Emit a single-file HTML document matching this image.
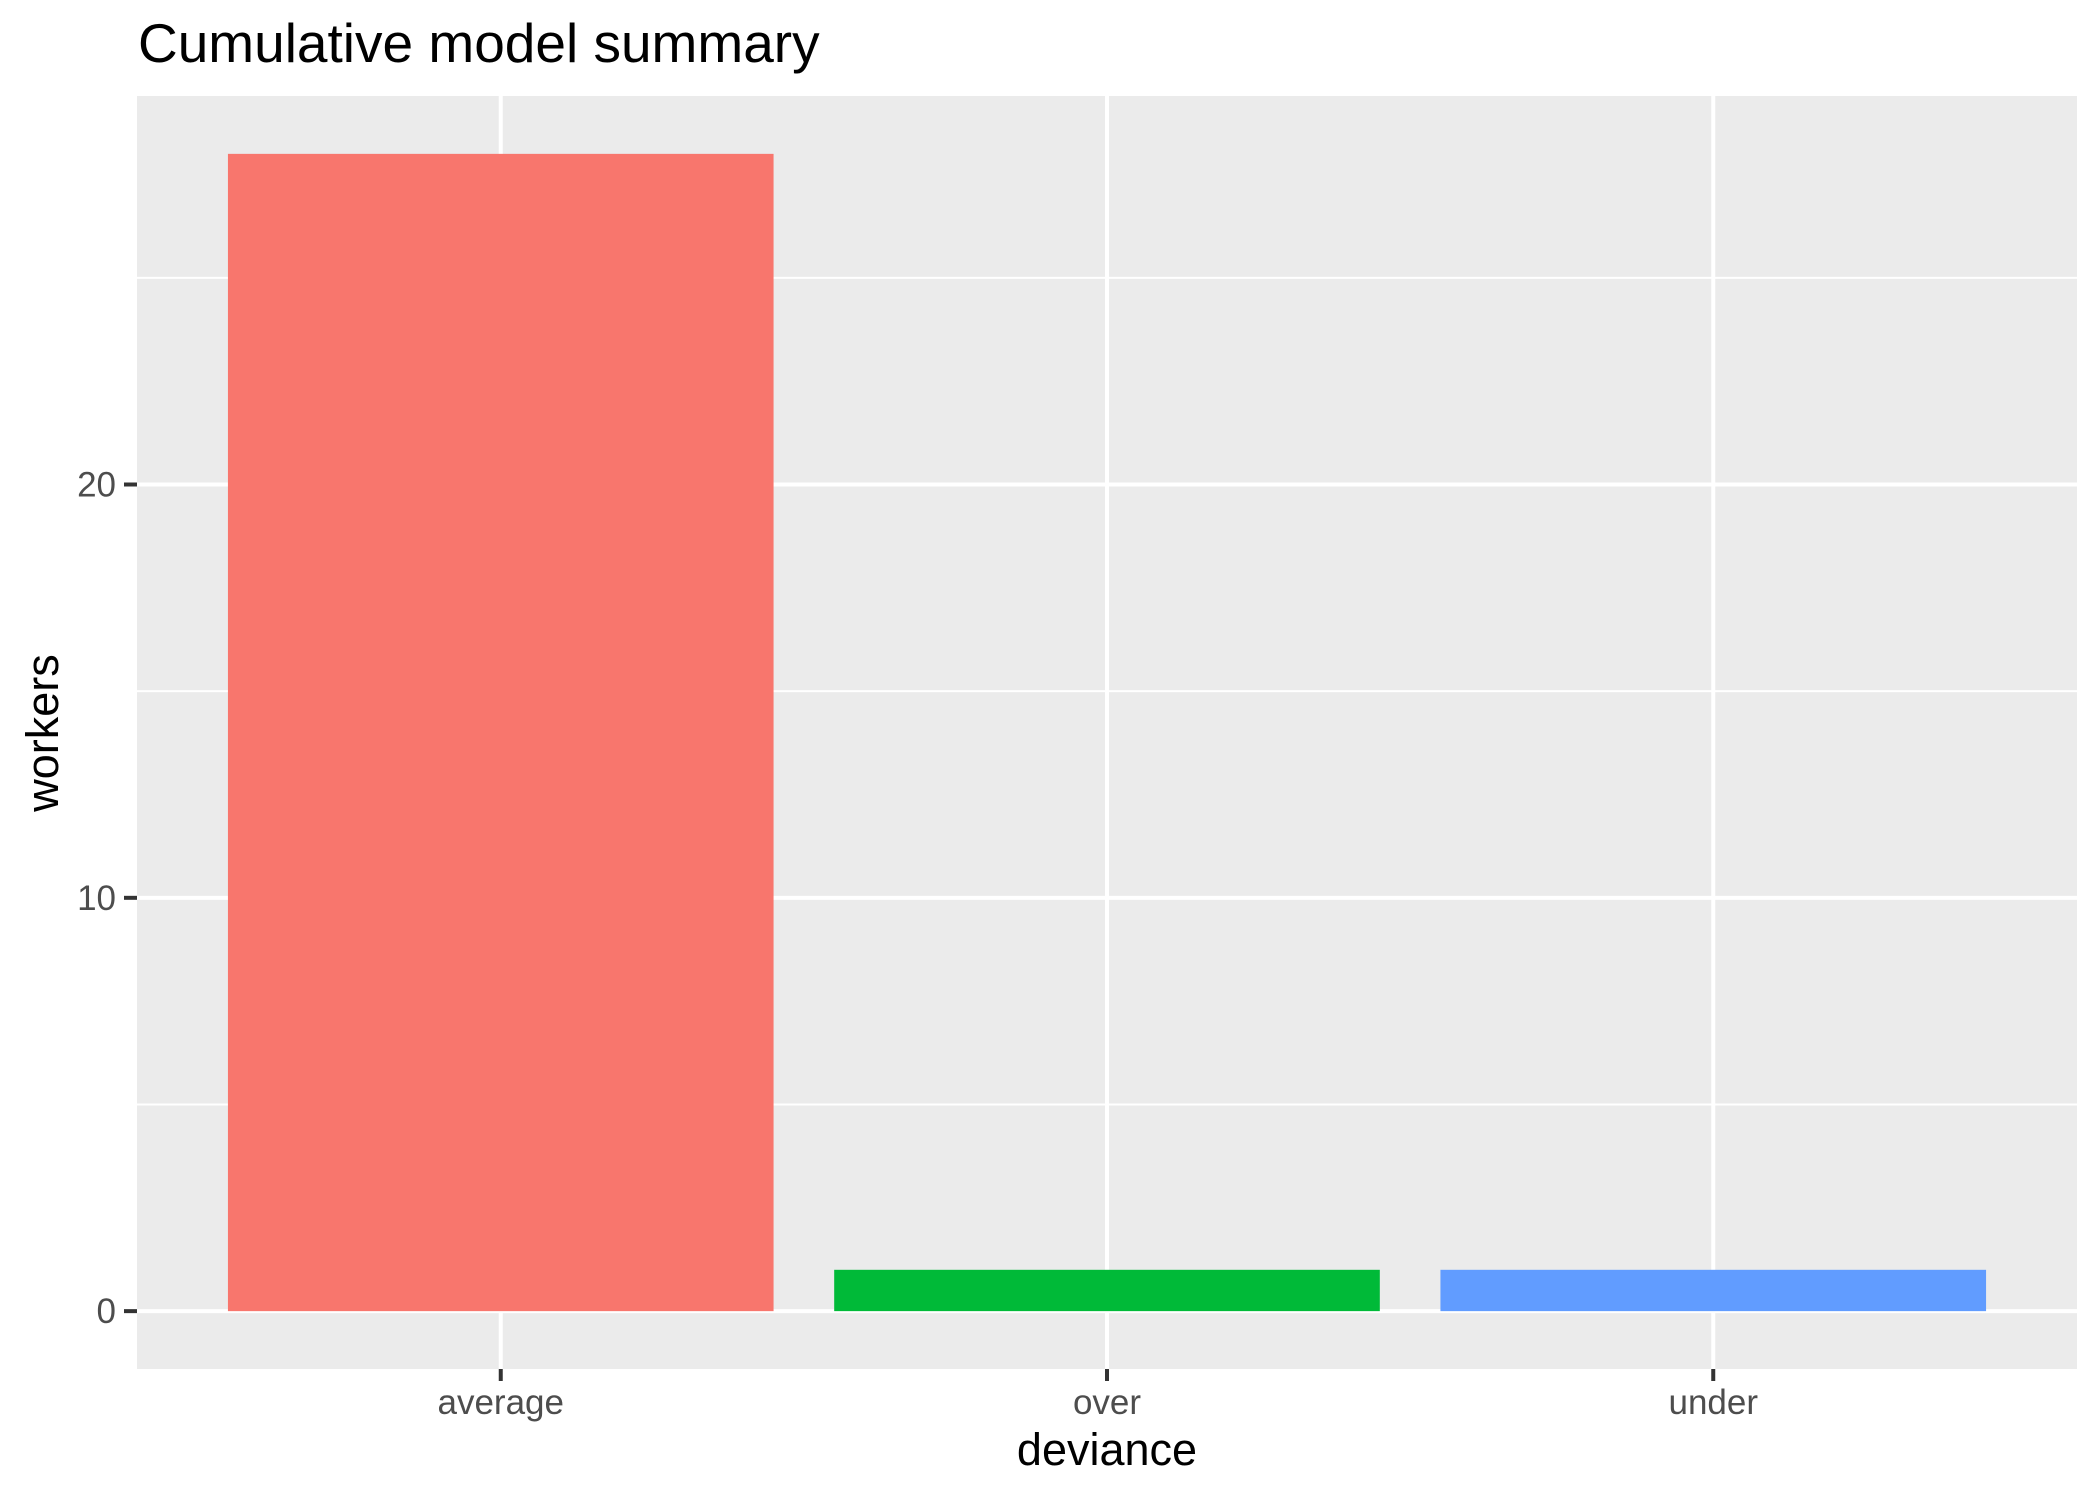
<!DOCTYPE html>
<html><head><meta charset="utf-8"><style>
html,body{margin:0;padding:0;background:#fff;}
svg{display:block;font-family:"Liberation Sans",Arial,sans-serif;}
</style></head><body>
<svg id="chart" width="2100" height="1499" viewBox="0 0 2100 1499" xmlns="http://www.w3.org/2000/svg">
<rect width="2100" height="1499" fill="#fff"/>
<text x="138" y="62" font-size="55" fill="#000">Cumulative model summary</text>
<rect x="137" y="96" width="1940" height="1273" fill="#ebebeb"/>
<g id="grid"></g>
<g id="bars"></g>
<g id="axes"></g>
<text x="1107" y="1465" font-size="45" text-anchor="middle" fill="#000">deviance</text>
<text transform="translate(58,733) rotate(-90)" font-size="45" text-anchor="middle" fill="#000">workers</text>
</svg>
<script>
const categories = ["average", "over", "under"];
const values = [28, 1, 1];
const colors = ["#F8766D", "#00BA38", "#619CFF"];
const yTicks = [0, 10, 20];
const yMinor = [5, 15, 25];
const yMin = -1.4, yMax = 29.4;

const NS = "http://www.w3.org/2000/svg";
const pL = 137, pR = 2077, pT = 96, pB = 1369;
const step = (pR - pL) / (categories.length - 1 + 1.2);
function xScale(i){ return pL + step * (0.6 + i); }
function yScale(v){ return pB - (v - yMin) / (yMax - yMin) * (pB - pT); }
function mk(tag, attrs, parent){
  const e = document.createElementNS(NS, tag);
  for (const k in attrs) e.setAttribute(k, attrs[k]);
  parent.appendChild(e); return e;
}
const grid = document.getElementById('grid');
const bars = document.getElementById('bars');
const axes = document.getElementById('axes');

yMinor.forEach(v => {
  const l = mk('line', {x1:pL, x2:pR, y1:yScale(v), y2:yScale(v), stroke:'#fff', 'stroke-width':2}, grid);
  
  
});
yTicks.forEach(v => {
  const y = yScale(v);
  const l = mk('line', {x1:pL, x2:pR, y1:y, y2:y, stroke:'#fff', 'stroke-width':4}, grid);
  
  
  const t = mk('line', {x1:124, x2:pL, y1:y, y2:y, stroke:'#333', 'stroke-width':4}, axes);
  
  
  const tx = mk('text', {x:116, y:y + 12, 'font-size':35, 'text-anchor':'end', fill:'#4d4d4d'}, axes);
  tx.textContent = v;
  
  
});
categories.forEach((c, i) => {
  const x = xScale(i);
  const l = mk('line', {x1:x, x2:x, y1:pT, y2:pB, stroke:'#fff', 'stroke-width':4}, grid);
  
  
  const bw = step * 0.9;
  const y0 = yScale(0), y1 = yScale(values[i]);
  const r = mk('rect', {x:x - bw/2, y:y1, width:bw, height:y0 - y1, fill:colors[i]}, bars);
  
  
  const t = mk('line', {x1:x, x2:x, y1:pB, y2:pB + 12, stroke:'#333', 'stroke-width':4}, axes);
  
  
  const tx = mk('text', {x:x, y:1414, 'font-size':35, 'text-anchor':'middle', fill:'#4d4d4d'}, axes);
  tx.textContent = c;
  
  
});
</script>
</body></html>
